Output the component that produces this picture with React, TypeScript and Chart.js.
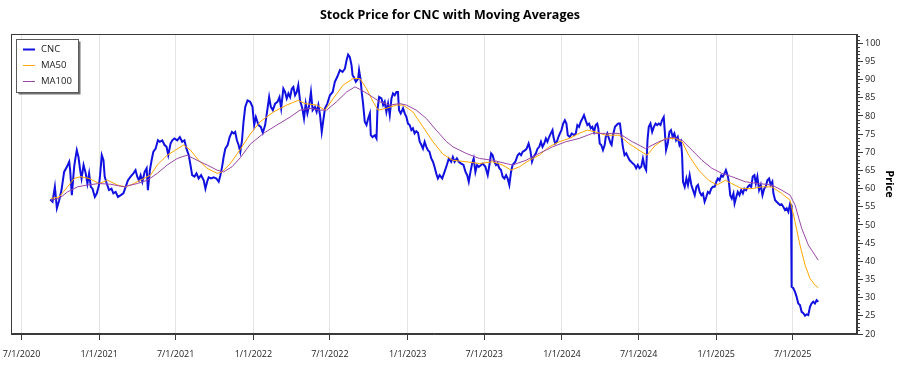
import React, { useEffect, useRef } from 'react';
import { Chart, registerables } from 'chart.js';

Chart.register(...registerables);

const FONT = "'Open Sans', 'Noto Sans', sans-serif";

const chartTitle = 'Stock Price for CNC with Moving Averages';
const yAxisTitle = 'Price';
const seriesNames = ['CNC', 'MA50', 'MA100'];
const seriesColors = ['#1010e0', '#ffa500', '#9a46a6'];
const seriesWidths = [2, 1, 1];

const xTickDates = ['7/1/2020', '1/1/2021', '7/1/2021', '1/1/2022', '7/1/2022', '1/1/2023', '7/1/2023', '1/1/2024', '7/1/2024', '1/1/2025', '7/1/2025'];
const yTickValues = [20, 25, 30, 35, 40, 45, 50, 55, 60, 65, 70, 75, 80, 85, 90, 95, 100];
const yRange = [20, 102.55];
const xRange = [2020.4286, 2025.9128];

// CNC closing price (decimal year, price)
const cncYears = [
  2020.683, 2020.698, 2020.713, 2020.726, 2020.741, 2020.756, 2020.773, 2020.791, 2020.806, 2020.812,
  2020.823, 2020.838, 2020.844, 2020.855, 2020.866, 2020.877, 2020.886, 2020.899, 2020.913, 2020.924,
  2020.935, 2020.946, 2020.957, 2020.972, 2020.985, 2020.999, 2021.006, 2021.017, 2021.028, 2021.036,
  2021.049, 2021.064, 2021.080, 2021.092, 2021.107, 2021.122, 2021.140, 2021.157, 2021.172, 2021.187,
  2021.204, 2021.222, 2021.236, 2021.247, 2021.258, 2021.269, 2021.280, 2021.295, 2021.308, 2021.316,
  2021.329, 2021.340, 2021.351, 2021.366, 2021.381, 2021.393, 2021.409, 2021.424, 2021.437, 2021.448,
  2021.463, 2021.474, 2021.488, 2021.506, 2021.523, 2021.538, 2021.553, 2021.566, 2021.581, 2021.592,
  2021.603, 2021.618, 2021.631, 2021.645, 2021.661, 2021.678, 2021.689, 2021.700, 2021.710, 2021.726,
  2021.742, 2021.760, 2021.775, 2021.786, 2021.797, 2021.807, 2021.818, 2021.833, 2021.846, 2021.861,
  2021.872, 2021.882, 2021.893, 2021.904, 2021.915, 2021.926, 2021.936, 2021.947, 2021.962, 2021.979,
  2021.994, 2022.005, 2022.016, 2022.033, 2022.048, 2022.061, 2022.076, 2022.087, 2022.102, 2022.113,
  2022.126, 2022.141, 2022.156, 2022.169, 2022.180, 2022.194, 2022.205, 2022.216, 2022.227, 2022.238,
  2022.249, 2022.259, 2022.270, 2022.281, 2022.291, 2022.302, 2022.317, 2022.328, 2022.339, 2022.350,
  2022.362, 2022.373, 2022.384, 2022.399, 2022.410, 2022.421, 2022.432, 2022.443, 2022.453, 2022.464,
  2022.479, 2022.496, 2022.514, 2022.528, 2022.543, 2022.561, 2022.578, 2022.593, 2022.604, 2022.614,
  2022.625, 2022.636, 2022.643, 2022.651, 2022.664, 2022.679, 2022.685, 2022.694, 2022.703, 2022.711,
  2022.722, 2022.733, 2022.744, 2022.755, 2022.761, 2022.772, 2022.787, 2022.798, 2022.804, 2022.815,
  2022.830, 2022.841, 2022.851, 2022.862, 2022.873, 2022.884, 2022.895, 2022.905, 2022.916, 2022.927,
  2022.937, 2022.944, 2022.955, 2022.970, 2022.981, 2022.992, 2023.002, 2023.013, 2023.024, 2023.034,
  2023.045, 2023.056, 2023.067, 2023.078, 2023.089, 2023.099, 2023.110, 2023.121, 2023.131, 2023.142,
  2023.153, 2023.164, 2023.174, 2023.185, 2023.196, 2023.207, 2023.224, 2023.239, 2023.254, 2023.267,
  2023.282, 2023.293, 2023.304, 2023.319, 2023.331, 2023.347, 2023.362, 2023.375, 2023.386, 2023.396,
  2023.407, 2023.418, 2023.428, 2023.439, 2023.450, 2023.461, 2023.476, 2023.487, 2023.504, 2023.519,
  2023.530, 2023.541, 2023.551, 2023.562, 2023.573, 2023.583, 2023.594, 2023.605, 2023.616, 2023.627,
  2023.638, 2023.648, 2023.659, 2023.670, 2023.680, 2023.698, 2023.713, 2023.724, 2023.735, 2023.745,
  2023.762, 2023.771, 2023.784, 2023.795, 2023.806, 2023.816, 2023.831, 2023.842, 2023.853, 2023.864,
  2023.874, 2023.885, 2023.896, 2023.906, 2023.917, 2023.928, 2023.939, 2023.945, 2023.956, 2023.967,
  2023.977, 2023.987, 2023.997, 2024.008, 2024.019, 2024.029, 2024.038, 2024.051, 2024.064, 2024.079,
  2024.090, 2024.100, 2024.111, 2024.122, 2024.133, 2024.143, 2024.154, 2024.165, 2024.176, 2024.187,
  2024.197, 2024.208, 2024.219, 2024.229, 2024.236, 2024.245, 2024.255, 2024.266, 2024.277, 2024.284,
  2024.294, 2024.305, 2024.316, 2024.322, 2024.331, 2024.344, 2024.355, 2024.365, 2024.376, 2024.384,
  2024.395, 2024.406, 2024.417, 2024.428, 2024.439, 2024.449, 2024.460, 2024.471, 2024.481, 2024.492,
  2024.503, 2024.514, 2024.525, 2024.536, 2024.546, 2024.555, 2024.563, 2024.574, 2024.585, 2024.596,
  2024.607, 2024.617, 2024.628, 2024.639, 2024.649, 2024.660, 2024.667, 2024.675, 2024.686, 2024.697,
  2024.707, 2024.718, 2024.729, 2024.740, 2024.751, 2024.762, 2024.772, 2024.779, 2024.785, 2024.796,
  2024.807, 2024.817, 2024.828, 2024.839, 2024.850, 2024.861, 2024.872, 2024.882, 2024.893, 2024.904,
  2024.914, 2024.925, 2024.936, 2024.946, 2024.957, 2024.968, 2024.979, 2024.990, 2025.001, 2025.011,
  2025.022, 2025.033, 2025.043, 2025.054, 2025.063, 2025.074, 2025.082, 2025.091, 2025.101, 2025.112,
  2025.119, 2025.130, 2025.140, 2025.151, 2025.162, 2025.173, 2025.183, 2025.194, 2025.205, 2025.216,
  2025.227, 2025.237, 2025.248, 2025.257, 2025.267, 2025.278, 2025.289, 2025.300, 2025.311, 2025.321,
  2025.332, 2025.343, 2025.353, 2025.364, 2025.371, 2025.382, 2025.392, 2025.403, 2025.414, 2025.424,
  2025.435, 2025.446, 2025.457, 2025.468, 2025.479, 2025.485, 2025.489, 2025.500, 2025.511, 2025.521,
  2025.532, 2025.543, 2025.554, 2025.565, 2025.576, 2025.586, 2025.597, 2025.608, 2025.618, 2025.629,
  2025.640, 2025.651, 2025.662,
];
const cncPrices = [
  57.0, 56.4, 60.5, 54.6, 56.8, 59.6, 64.6, 66.0, 67.4, 65.1,
  58.2, 66.0, 67.8, 70.6, 68.7, 65.1, 62.8, 66.5, 64.2, 61.4,
  64.2, 60.5, 60.0, 57.7, 58.7, 61.0, 63.7, 69.2, 67.8, 63.3,
  61.4, 59.6, 60.0, 58.7, 59.1, 57.7, 58.2, 58.7, 60.5, 62.3,
  63.3, 64.2, 65.1, 63.3, 62.3, 63.7, 61.9, 64.6, 65.6, 59.6,
  65.1, 67.8, 70.1, 71.0, 73.3, 72.9, 73.3, 72.0, 71.5, 69.2,
  72.4, 73.3, 73.8, 73.3, 74.2, 72.9, 73.3, 71.0, 69.2, 66.5,
  63.7, 63.3, 64.2, 62.8, 63.7, 62.3, 60.0, 61.9, 63.1, 62.8,
  63.1, 62.8, 61.9, 63.7, 66.0, 68.7, 71.0, 72.0, 74.2, 75.6,
  75.2, 75.6, 73.3, 72.0, 70.1, 73.3, 78.4, 82.5, 84.3, 83.9,
  82.5, 77.5, 79.7, 77.5, 77.0, 75.4, 77.5, 80.7, 85.2, 82.5,
  81.6, 83.4, 83.9, 85.2, 82.1, 87.5, 86.6, 84.8, 86.2, 85.2,
  87.5, 88.0, 85.7, 86.6, 88.5, 84.3, 82.1, 79.3, 83.4, 80.7,
  83.0, 86.6, 81.6, 82.5, 81.1, 83.0, 80.2, 75.6, 78.8, 82.1,
  83.4, 85.7, 86.6, 89.4, 90.7, 92.6, 92.1, 93.0, 95.3, 96.9,
  96.2, 94.0, 91.2, 90.7, 89.4, 90.3, 92.6, 90.3, 86.2, 83.4,
  78.4, 77.5, 79.3, 80.7, 74.7, 74.2, 74.7, 73.8, 81.6, 85.2,
  84.8, 83.0, 83.9, 81.1, 83.4, 80.2, 84.8, 86.2, 85.7, 86.6,
  86.6, 81.6, 80.7, 82.1, 80.7, 79.7, 77.9, 77.5, 76.1, 76.6,
  75.2, 75.8, 75.4, 72.9, 72.0, 71.0, 72.9, 71.5, 70.6, 70.1,
  68.3, 67.4, 66.0, 64.2, 62.8, 63.7, 62.8, 64.6, 66.5, 68.3,
  67.4, 68.7, 67.4, 68.3, 67.4, 66.9, 66.5, 64.6, 63.7, 61.9,
  64.6, 66.9, 68.3, 64.6, 66.5, 66.0, 66.5, 66.9, 66.0, 63.7,
  66.5, 69.7, 69.2, 67.4, 66.5, 66.9, 65.6, 65.1, 63.3, 62.8,
  63.7, 62.8, 61.0, 64.6, 66.5, 67.4, 69.2, 69.7, 69.2, 70.1,
  70.6, 71.0, 72.4, 70.6, 67.4, 68.7, 69.7, 71.0, 71.5, 72.9,
  71.5, 72.4, 73.8, 72.9, 74.2, 75.2, 76.1, 74.2, 72.4, 72.9,
  74.2, 75.2, 76.1, 77.9, 78.8, 77.9, 74.7, 74.2, 75.2, 74.7,
  75.2, 77.5, 77.0, 78.4, 79.3, 80.2, 78.8, 77.5, 77.9, 76.6,
  77.0, 75.6, 77.5, 77.9, 76.6, 72.4, 72.0, 70.6, 72.0, 74.2,
  75.2, 73.8, 72.4, 72.0, 74.7, 77.0, 77.5, 77.9, 77.9, 75.2,
  71.5, 69.2, 69.7, 68.7, 67.8, 67.4, 66.9, 66.5, 65.6, 66.5,
  65.6, 66.0, 68.3, 66.0, 65.1, 73.5, 77.0, 77.9, 75.6, 77.0,
  77.9, 77.5, 77.9, 77.5, 78.8, 79.7, 75.6, 70.6, 72.4, 75.6,
  76.1, 74.2, 75.2, 73.3, 74.2, 72.0, 72.9, 69.2, 61.9, 60.5,
  62.8, 61.0, 63.7, 61.0, 59.6, 58.2, 60.5, 61.0, 59.1, 58.2,
  58.7, 56.4, 57.7, 59.1, 58.7, 60.0, 60.5, 60.5, 61.9, 62.8,
  62.3, 63.7, 63.3, 64.2, 65.1, 63.7, 61.9, 58.2, 57.3, 58.7,
  55.9, 57.7, 59.1, 58.2, 59.6, 58.7, 60.0, 59.6, 60.5, 61.0,
  60.5, 63.3, 63.7, 61.4, 63.3, 59.6, 61.0, 58.2, 60.0, 60.5,
  62.3, 62.8, 61.0, 61.9, 58.7, 56.8, 56.4, 55.9, 55.5, 55.7,
  55.0, 54.1, 54.6, 53.6, 55.9, 55.5, 33.0, 32.6, 31.6, 30.3,
  28.4, 28.0, 26.1, 25.7, 25.0, 25.4, 25.2, 27.5, 28.4, 28.9,
  28.4, 29.3, 28.9,
];

// 50-day moving average
const ma50Years = [
  2020.687, 2020.741, 2020.795, 2020.838, 2020.881, 2020.935, 2020.999, 2021.054, 2021.118, 2021.172,
  2021.225, 2021.290, 2021.333, 2021.377, 2021.441, 2021.495, 2021.548, 2021.592, 2021.645, 2021.700,
  2021.764, 2021.797, 2021.850, 2021.915, 2021.979, 2022.044, 2022.130, 2022.216, 2022.291, 2022.335,
  2022.410, 2022.464, 2022.518, 2022.582, 2022.647, 2022.690, 2022.733, 2022.776, 2022.808, 2022.862,
  2022.927, 2022.970, 2023.034, 2023.099, 2023.164, 2023.228, 2023.293, 2023.379, 2023.465, 2023.551,
  2023.616, 2023.670, 2023.724, 2023.788, 2023.853, 2023.917, 2023.982, 2024.047, 2024.111, 2024.165,
  2024.219, 2024.284, 2024.370, 2024.434, 2024.499, 2024.552, 2024.607, 2024.671, 2024.736, 2024.779,
  2024.822, 2024.886, 2024.951, 2025.005, 2025.059, 2025.101, 2025.166, 2025.231, 2025.295, 2025.360,
  2025.424, 2025.479, 2025.511, 2025.543, 2025.576, 2025.608, 2025.640, 2025.662,
];
const ma50Values = [
  57.3, 57.7, 60.5, 62.8, 63.3, 62.8, 61.4, 62.3, 61.0, 60.5,
  61.4, 62.8, 63.7, 66.5, 69.2, 70.6, 72.0, 70.6, 67.8, 65.6,
  64.2, 64.6, 66.9, 70.8, 75.0, 78.4, 81.1, 83.0, 84.3, 83.4,
  83.0, 81.6, 84.8, 88.5, 90.3, 90.3, 87.5, 83.9, 81.6, 82.1,
  83.0, 83.0, 81.1, 77.0, 72.9, 69.5, 67.8, 67.4, 66.9, 67.4,
  66.5, 65.1, 66.0, 67.8, 69.2, 71.5, 72.9, 73.8, 75.2, 76.1,
  75.6, 74.7, 74.7, 72.4, 70.6, 69.2, 72.0, 73.8, 73.8, 72.9,
  69.2, 65.1, 62.3, 61.0, 62.3, 61.4, 60.0, 60.0, 60.5, 60.5,
  58.7, 56.8, 50.9, 44.5, 39.0, 35.3, 33.5, 32.7,
];

// 100-day moving average
const ma100Years = [
  2020.687, 2020.741, 2020.795, 2020.860, 2020.924, 2020.999, 2021.075, 2021.161, 2021.247, 2021.312,
  2021.377, 2021.441, 2021.506, 2021.570, 2021.635, 2021.700, 2021.764, 2021.807, 2021.861, 2021.915,
  2021.979, 2022.065, 2022.152, 2022.238, 2022.302, 2022.367, 2022.432, 2022.475, 2022.539, 2022.604,
  2022.658, 2022.701, 2022.755, 2022.819, 2022.884, 2022.948, 2022.992, 2023.056, 2023.121, 2023.185,
  2023.250, 2023.293, 2023.379, 2023.465, 2023.551, 2023.638, 2023.680, 2023.767, 2023.853, 2023.939,
  2024.025, 2024.111, 2024.197, 2024.284, 2024.370, 2024.456, 2024.499, 2024.542, 2024.628, 2024.714,
  2024.779, 2024.843, 2024.908, 2024.972, 2025.037, 2025.101, 2025.188, 2025.274, 2025.360, 2025.424,
  2025.479, 2025.511, 2025.554, 2025.597, 2025.662,
];
const ma100Values = [
  56.8, 57.3, 59.1, 60.5, 61.0, 61.4, 61.2, 60.5, 61.4, 62.3,
  64.2, 66.5, 68.3, 69.2, 67.8, 66.5, 65.1, 64.6, 66.0, 68.5,
  72.2, 75.2, 77.5, 79.7, 81.6, 82.1, 81.6, 81.6, 83.9, 86.6,
  88.0, 87.1, 85.7, 83.9, 83.0, 83.4, 83.0, 81.6, 79.3, 76.1,
  73.0, 71.5, 69.7, 68.3, 67.8, 66.9, 66.5, 67.8, 69.7, 71.5,
  72.9, 73.8, 75.2, 75.2, 75.2, 72.9, 72.0, 71.0, 72.9, 74.2,
  73.3, 70.6, 67.8, 65.6, 64.2, 63.3, 61.9, 61.4, 61.0, 59.6,
  58.2, 55.5, 49.1, 44.5, 40.3,
];

function dateToYear(s: string): number {
  const [m, d, y] = s.split('/').map(Number);
  const start = Date.UTC(y, 0, 1);
  const end = Date.UTC(y + 1, 0, 1);
  return y + (Date.UTC(y, m - 1, d) - start) / (end - start);
}

function toPoints(xs: number[], ys: number[]) {
  return xs.map((x, i) => ({ x, y: ys[i] }));
}

const framePlugin = {
  id: 'plotFrame',
  afterDatasetsDraw(chart: any) {
    const { ctx, chartArea: a } = chart;
    ctx.save();
    ctx.strokeStyle = '#3a3a3a';
    ctx.lineWidth = 1;
    const l = Math.round(a.left) + 0.5;
    const t = Math.round(a.top) + 0.5;
    const r = Math.round(a.right) - 0.5;
    const b = Math.round(a.bottom) - 0.5;
    ctx.strokeRect(l, t, r - l, b - t);
    ctx.restore();
  },
};

const minorTickPlugin = {
  id: 'minorTicks',
  afterDraw(chart: any) {
    const { ctx, chartArea: a } = chart;
    const ys = chart.scales.y;
    ctx.save();
    ctx.strokeStyle = '#3a3a3a';
    ctx.lineWidth = 1;
    ctx.beginPath();
    for (let v = Math.ceil(ys.min); v <= ys.max; v++) {
      if (v % 5 === 0) continue;
      const py = Math.round(ys.getPixelForValue(v)) + 0.5;
      ctx.moveTo(Math.round(a.right), py);
      ctx.lineTo(Math.round(a.right) + 3, py);
    }
    ctx.stroke();
    ctx.restore();
  },
};

const boxLegendPlugin = {
  id: 'boxLegend',
  afterDraw(chart: any) {
    const { ctx } = chart;
    const x = 16.5, y = 39.5, w = 62, h = 53;
    ctx.save();
    ctx.fillStyle = 'rgba(0,0,0,0.55)';
    ctx.fillRect(x + 2, y + 2, w, h);
    ctx.fillStyle = '#ffffff';
    ctx.fillRect(x, y, w, h);
    ctx.strokeStyle = '#5a5a5a';
    ctx.lineWidth = 1;
    ctx.strokeRect(x, y, w, h);
    ctx.font = `9.5px ${FONT}`;
    ctx.textBaseline = 'middle';
    ctx.textAlign = 'left';
    chart.data.datasets.forEach((ds: any, i: number) => {
      const cy = 49.5 + i * 16;
      ctx.strokeStyle = ds.borderColor;
      ctx.lineWidth = ds.borderWidth;
      ctx.beginPath();
      ctx.moveTo(23, cy);
      ctx.lineTo(35, cy);
      ctx.stroke();
      ctx.fillStyle = '#1a1a1a';
      ctx.fillText(ds.label, 41, cy);
    });
    ctx.restore();
  },
};

export default function App() {
  const canvasRef = useRef<HTMLCanvasElement | null>(null);

  useEffect(() => {
    document.body.style.margin = '0';
    const canvas = canvasRef.current;
    if (!canvas) return;
    const seriesX = [cncYears, ma50Years, ma100Years];
    const seriesY = [cncPrices, ma50Values, ma100Values];
    const chart = new Chart(canvas, {
      type: 'line',
      data: {
        datasets: seriesNames.map((name, i) => ({
          label: name,
          data: toPoints(seriesX[i], seriesY[i]),
          borderColor: seriesColors[i],
          backgroundColor: seriesColors[i],
          borderWidth: seriesWidths[i],
          pointRadius: 0,
          tension: 0,
          fill: false,
          order: 3 - i,
        })),
      },
      options: {
        animation: false,
        responsive: false,
        maintainAspectRatio: false,
        devicePixelRatio: 1,
        layout: { padding: 0 },
        plugins: {
          legend: { display: false },
          tooltip: { enabled: false },
          title: {
            display: true,
            text: chartTitle,
            color: '#000',
            font: { family: FONT, size: 12.5, weight: 'bold' },
            padding: { top: 7.5, bottom: 11.5 },
          },
        },
        scales: {
          x: {
            type: 'linear',
            position: 'bottom',
            min: xRange[0],
            max: xRange[1],
            grid: { color: '#e4e4e4', tickColor: '#3a3a3a', tickLength: 6, drawOnChartArea: true },
            border: { color: '#3a3a3a' },
            ticks: {
              color: '#222',
              font: { family: FONT, size: 9 },
              padding: 9.5,
              maxRotation: 0,
              minRotation: 0,
              autoSkip: false,
              callback: (_v: any, idx: number) => xTickDates[idx],
            },
            afterBuildTicks: (scale: any) => {
              scale.ticks = xTickDates.map((d) => ({ value: dateToYear(d) }));
            },
            afterFit: (scale: any) => {
              scale.height = 41;
              scale.paddingLeft = 11;
              scale.paddingRight = 0;
            },
          },
          y: {
            type: 'linear',
            position: 'right',
            min: yRange[0],
            max: yRange[1],
            grid: { drawOnChartArea: false, tickColor: '#3a3a3a', tickLength: 6 },
            border: { color: '#3a3a3a' },
            ticks: {
              color: '#222',
              font: { family: FONT, size: 9 },
              padding: 2,
              autoSkip: false,
              callback: (v: any) => String(v),
            },
            title: {
              display: true,
              text: yAxisTitle,
              color: '#000',
              font: { family: FONT, size: 11, weight: 'bold' },
              padding: { top: 4, bottom: 0 },
            },
            afterBuildTicks: (scale: any) => {
              scale.ticks = yTickValues.map((v) => ({ value: v }));
            },
            afterFit: (scale: any) => {
              scale.width = 43;
              scale.paddingTop = 0;
              scale.paddingBottom = 0;
            },
          },
        },
      },
      plugins: [framePlugin, minorTickPlugin, boxLegendPlugin],
    } as any);
    return () => chart.destroy();
  }, []);

  return (
    <div style={{ width: 900, height: 375, background: '#fff' }}>
      <canvas ref={canvasRef} width={900} height={375} style={{ display: 'block', width: 900, height: 375 }} />
    </div>
  );
}
